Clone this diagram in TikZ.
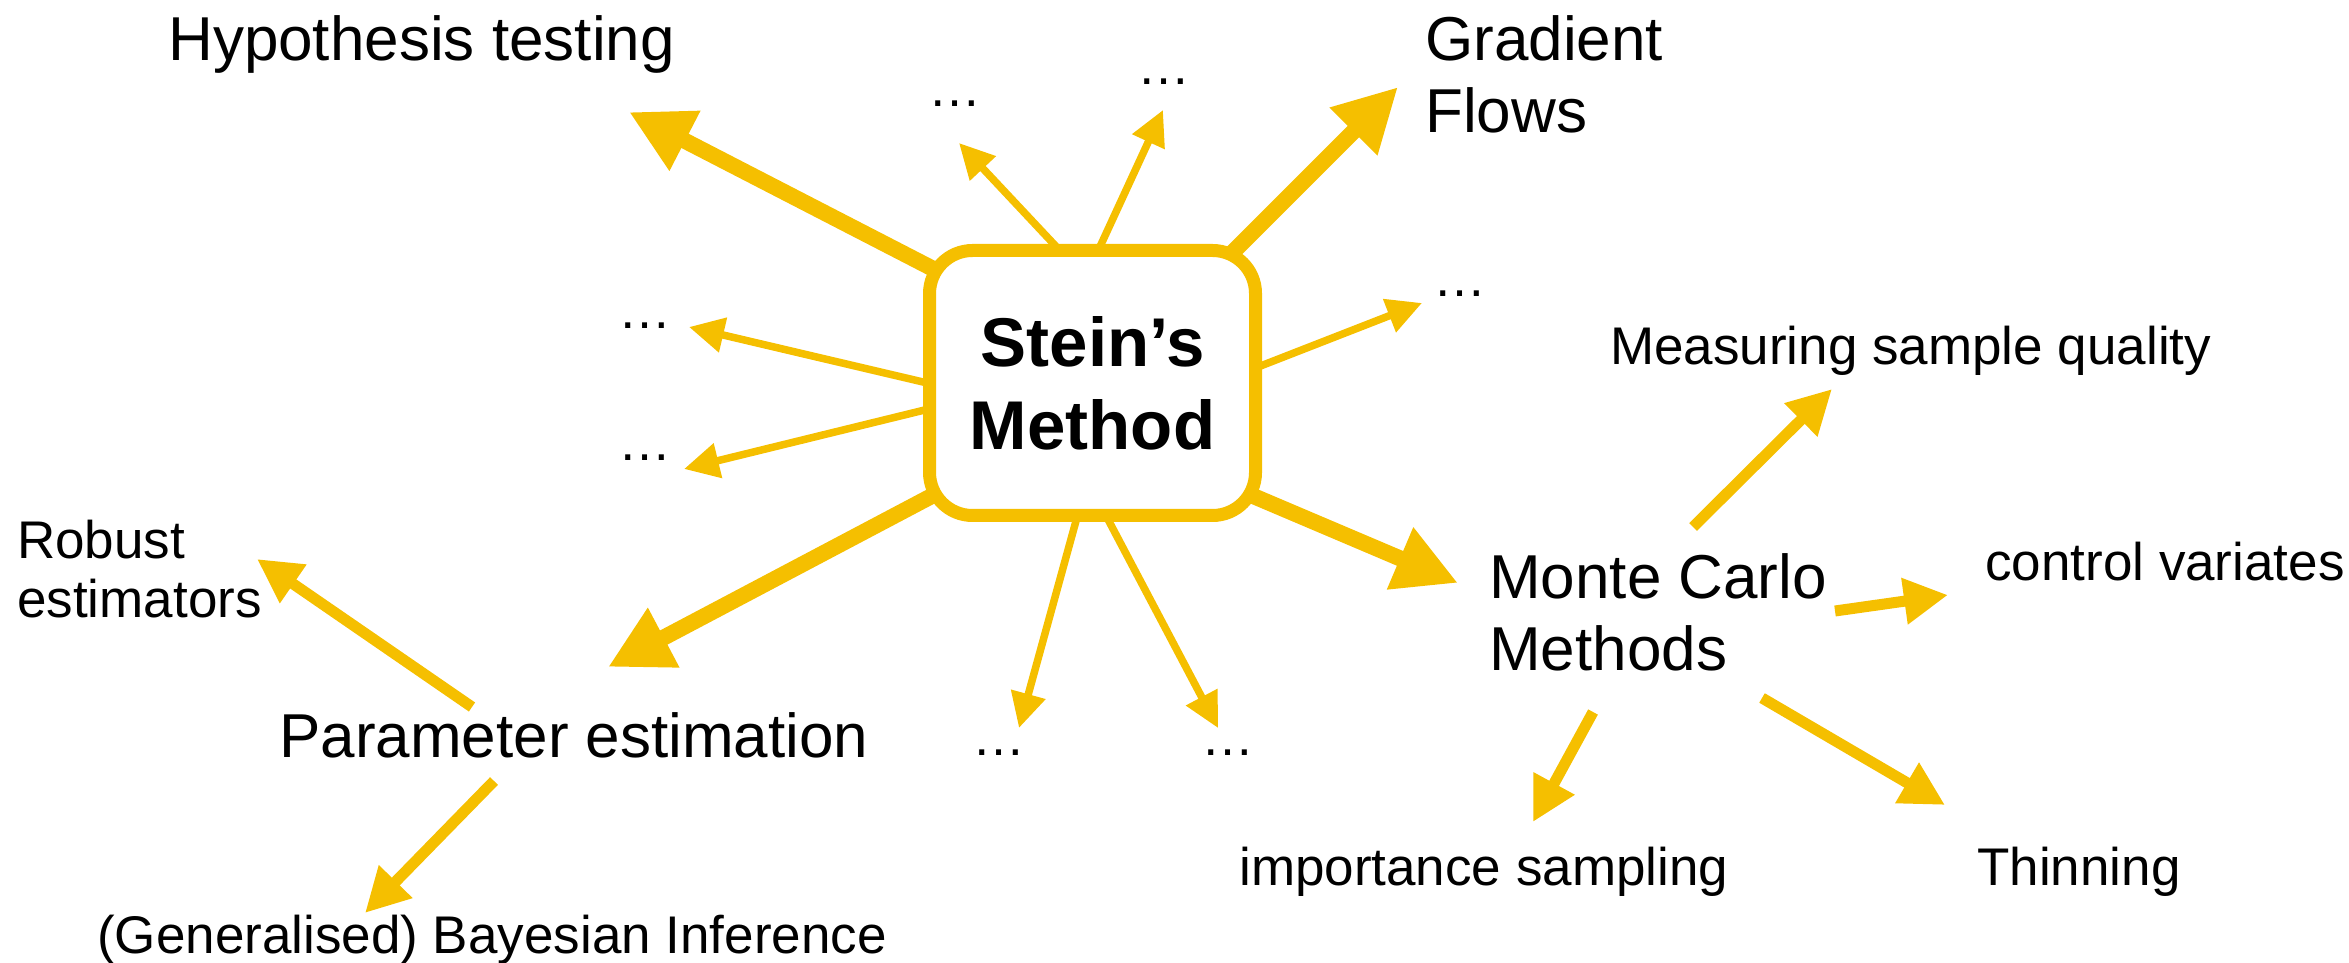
\documentclass[tikz,border=0pt]{standalone}
\usepackage{fontspec}
\setmainfont{Liberation Sans}
\usetikzlibrary{arrows.meta,backgrounds}
\definecolor{steingold}{RGB}{245,191,0}

\tikzset{every picture/.style={line width=0.75pt}}
\tikzset{
  bigarrow/.style={draw=steingold,line width=4.8pt,-{Triangle[length=18.9pt,width=18.9pt]}},
  midarrow/.style={draw=steingold,line width=3.3pt,-{Triangle[length=13.2pt,width=13.2pt]}},
  thinarrow/.style={draw=steingold,line width=2.25pt,-{Triangle[length=10.5pt,width=10.2pt]}},
  bigtext/.style={anchor=base west,inner sep=0pt,align=left,font=\fontsize{18.6pt}{21.6pt}\selectfont},
  smalltext/.style={anchor=base west,inner sep=0pt,align=left,font=\fontsize{15.9pt}{17.7pt}\selectfont},
}

\begin{document}
\begin{tikzpicture}[x=0.3pt,y=0.3pt,yscale=-1,xscale=1]
\useasboundingbox (0,0) rectangle (2349,963);

% Stein box
\node (stein) at (1092.5,383) [draw=steingold,line width=3.9pt,fill=white,rounded corners=12.9pt,minimum width=97.8pt,minimum height=79.5pt,inner sep=0pt,align=center,font=\bfseries\fontsize{20.7pt}{24.9pt}\selectfont] {Stein’s\\Method};

% Text Node (multi-line nodes sit on their last line)
\node (hyp) at (167,61) [bigtext] {Hypothesis testing};
% Text Node
\node (grad) at (1424,133) [bigtext] {Gradient\\Flows};
% Text Node
\node (par) at (278,757) [bigtext] {Parameter estimation};
% Text Node
\node (mc) at (1488,670) [bigtext] {Monte Carlo\\Methods};
% Text Node
\node (rob) at (16,618) [smalltext] {Robust\\estimators};
% Text Node
\node (bay) at (96,953) [smalltext] {(Generalised) Bayesian Inference};
% Text Node
\node (meas) at (1609,365) [smalltext] {Measuring sample quality};
% Text Node
\node (ctrl) at (1984,581) [smalltext] {control variates};
% Text Node
\node (imp) at (1238,885) [smalltext] {importance sampling};
% Text Node
\node (thin) at (1976,885) [smalltext] {Thinning};

% Dots
\node (d1) at (927,107) [smalltext] {…};
\node (d2) at (1136,85) [smalltext] {…};
\node (d3) at (1432,297) [smalltext] {…};
\node (d4) at (617,329) [smalltext] {…};
\node (d5) at (617,461) [smalltext] {…};
\node (d6) at (971,755) [smalltext] {…};
\node (d7) at (1200,755) [smalltext] {…};

% arrow ends
\coordinate (sHyp) at (947,276);  \coordinate (tHyp) at (629,112);
\coordinate (sGrad) at (1223,262); \coordinate (tGrad) at (1398,87);
\coordinate (sPar) at (945,489);  \coordinate (tPar) at (608,667);
\coordinate (sMC) at (1239,490);  \coordinate (tMC) at (1458,583);
\coordinate (s1) at (1065,256); \coordinate (t1) at (959,143);
\coordinate (s2) at (1092,264); \coordinate (t2) at (1163,110);
\coordinate (s3) at (1240,374); \coordinate (t3) at (1422,303);
\coordinate (s4) at (940,386);  \coordinate (t4) at (689,327);
\coordinate (s5) at (941,406);  \coordinate (t5) at (684,469);
\coordinate (s6) at (1079,510); \coordinate (t6) at (1019,728);
\coordinate (s7) at (1103,510); \coordinate (t7) at (1218,728);
\coordinate (sRob) at (472,707);   \coordinate (tRob) at (257,559);
\coordinate (sBay) at (494,781);   \coordinate (tBay) at (365,913);
\coordinate (sMeas) at (1693,527); \coordinate (tMeas) at (1832,389);
\coordinate (sCtrl) at (1835,611); \coordinate (tCtrl) at (1948,595);
\coordinate (sImp) at (1593,712);  \coordinate (tImp) at (1533,822);
\coordinate (sThin) at (1762,698); \coordinate (tThin) at (1945,805);

\begin{scope}[on background layer]
%Straight Lines
\draw [bigarrow] (sHyp) -- (tHyp);
\draw [bigarrow] (sGrad) -- (tGrad);
\draw [bigarrow] (sPar) -- (tPar);
\draw [bigarrow] (sMC) -- (tMC);
%Straight Lines
\draw [thinarrow] (s1) -- (t1);
\draw [thinarrow] (s2) -- (t2);
\draw [thinarrow] (s3) -- (t3);
\draw [thinarrow] (s4) -- (t4);
\draw [thinarrow] (s5) -- (t5);
\draw [thinarrow] (s6) -- (t6);
\draw [thinarrow] (s7) -- (t7);
\end{scope}

%Straight Lines
\draw [midarrow] (sRob) -- (tRob);
\draw [midarrow] (sBay) -- (tBay);
\draw [midarrow] (sMeas) -- (tMeas);
\draw [midarrow] (sCtrl) -- (tCtrl);
\draw [midarrow] (sImp) -- (tImp);
\draw [midarrow] (sThin) -- (tThin);

\end{tikzpicture}
\end{document}
